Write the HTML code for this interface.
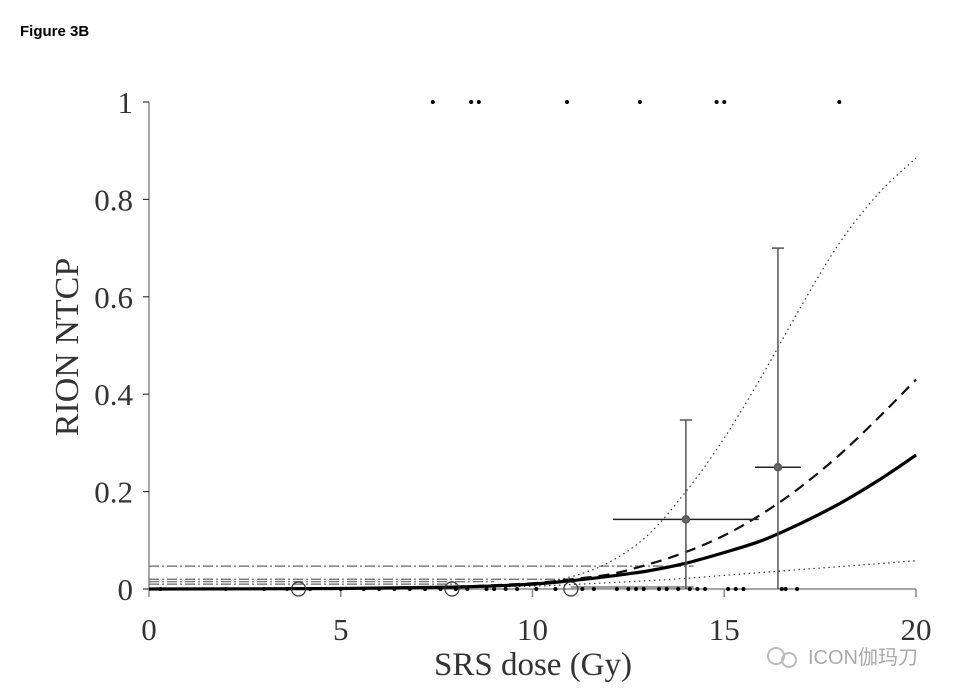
<!DOCTYPE html>
<html><head><meta charset="utf-8"><style>
body{margin:0;background:#fff;width:973px;height:699px;overflow:hidden}
svg{display:block}
</style></head><body>
<svg id="c" width="973" height="699" xmlns="http://www.w3.org/2000/svg">
<text x="20" y="36" font-family="Liberation Sans, sans-serif" font-weight="bold" font-size="15">Figure 3B</text>
<g id="axes"></g>
<g id="marks"></g>
<text x="533" y="675" text-anchor="middle" font-family="Liberation Serif, serif" font-size="33" fill="#333">SRS dose (Gy)</text>
<text transform="translate(78,347) rotate(-90)" text-anchor="middle" font-family="Liberation Serif, serif" font-size="34" fill="#333">RION NTCP</text>
<g>
<circle cx="776" cy="656" r="8" fill="none" stroke="#bbb" stroke-width="2"/>
<circle cx="789" cy="660" r="7" fill="none" stroke="#bbb" stroke-width="2"/>
<text x="808" y="664" font-family="Liberation Sans, 'Noto Sans CJK SC', sans-serif" font-size="20" fill="#aaa">ICON伽玛刀</text>
</g>
</svg>
<script>
const xTicks=[0,5,10,15,20];
const yTicks=[0,0.2,0.4,0.6,0.8,1];
const yTickLabels=["0","0.2","0.4","0.6","0.8","1"];
const doses=[0,5,8,10,11,12,13,14,15,16,17,18,19,20];
const fitMain=[0,0.001,0.004,0.01,0.017,0.026,0.037,0.053,0.075,0.1,0.135,0.175,0.222,0.275];
const fitDashed=[0,0.001,0.005,0.012,0.02,0.03,0.05,0.076,0.11,0.155,0.21,0.275,0.35,0.43];
const ciUpper=[0,0.002,0.006,0.012,0.025,0.055,0.11,0.2,0.31,0.44,0.58,0.71,0.81,0.885];
const ciLower=[0,0.001,0.003,0.006,0.009,0.013,0.017,0.022,0.028,0.034,0.04,0.046,0.052,0.058];
const refLevels=[0.047,0.02,0.015,0.01];
const refEnds=[14.2,11.0,9.0,8.0];
const binX=[14.0,16.4];
const binY=[0.143,0.25];
const binYLo=[0,0];
const binYHi=[0.347,0.70];
const binXLo=[12.1,15.8];
const binXHi=[15.9,17.0];
const eventDoses=[7.4,8.4,8.6,10.9,12.8,14.8,15.0,18.0];
const censorDoses=[0.3,2.0,3.0,3.6,4.2,5.0,5.6,6.0,6.4,6.8,7.2,7.6,8.0,8.3,8.8,9.0,9.3,9.6,10.1,10.6,11.3,11.6,12.2,12.5,12.7,12.9,13.3,13.5,13.8,14.1,14.3,14.5,15.1,15.3,15.5,16.5,16.6,16.9];
const circleDoses=[3.9,7.9,11.0];
const NS='http://www.w3.org/2000/svg';
const X=d=>149+d*(916-149)/20;
const Y=v=>589-v*(589-102);
function mk(tag,attrs,parent){const e=document.createElementNS(NS,tag);for(const k in attrs)e.setAttribute(k,attrs[k]);parent.appendChild(e);return e;}
const ax=document.getElementById('axes'),mg=document.getElementById('marks');
let e=mk('line',{x1:X(0),y1:Y(1),x2:X(0),y2:Y(0),stroke:'#888','stroke-width':1.5},ax);


e=mk('line',{x1:X(0),y1:Y(0),x2:X(20),y2:Y(0),stroke:'#888','stroke-width':1.5},ax);


yTicks.forEach((v,i)=>{
 mk('line',{x1:X(0)-6,y1:Y(v),x2:X(0),y2:Y(v),stroke:'#333','stroke-width':1.2},ax);
 const t=mk('text',{x:X(0)-16,y:Y(v)+11,'text-anchor':'end','font-family':'Liberation Serif, serif','font-size':31,fill:'#333'},ax);
 t.textContent=yTickLabels[i];
 
 
});
xTicks.forEach(v=>{
 mk('line',{x1:X(v),y1:Y(0),x2:X(v),y2:Y(0)+8,stroke:'#888','stroke-width':1.5},ax);
 const t=mk('text',{x:X(v),y:Y(0)+51,'text-anchor':'middle','font-family':'Liberation Serif, serif','font-size':31,fill:'#333'},ax);
 t.textContent=String(v);
 
 
});
refLevels.forEach((v,i)=>{
 const l=mk('line',{x1:X(0),y1:Y(v),x2:X(refEnds[i]),y2:Y(v),stroke:'#666','stroke-width':1.2,'stroke-dasharray':'10 3 2 3'},mg);
 
 
});
mk('line',{x1:X(11),y1:Y(0.003),x2:X(14.2),y2:Y(0.003),stroke:'#999','stroke-width':3},mg);
function path(vals,attrs,name){
 const P=doses.map((x,i)=>[X(x),Y(vals[i])]);
 let d='M'+P[0][0].toFixed(1)+','+P[0][1].toFixed(1);
 for(let i=0;i<P.length-1;i++){
  const p0=P[Math.max(i-1,0)],p1=P[i],p2=P[i+1],p3=P[Math.min(i+2,P.length-1)];
  const c1=[p1[0]+(p2[0]-p0[0])/6,p1[1]+(p2[1]-p0[1])/6];
  const c2=[p2[0]-(p3[0]-p1[0])/6,p2[1]-(p3[1]-p1[1])/6];
  d+='C'+c1.map(n=>n.toFixed(1))+' '+c2.map(n=>n.toFixed(1))+' '+p2.map(n=>n.toFixed(1));
 }
 const p=mk('path',Object.assign({d:d,fill:'none'},attrs),mg);
 
 
}
path(ciUpper,{stroke:'#333','stroke-width':1.2,'stroke-dasharray':'1.5 3.5'},'ci-upper-line');
path(ciLower,{stroke:'#333','stroke-width':1.2,'stroke-dasharray':'1.5 3.5'},'ci-lower-line');
path(fitDashed,{stroke:'#111','stroke-width':2.2,'stroke-dasharray':'11 7'},'dashed-fit-line');
path(fitMain,{stroke:'#000','stroke-width':3.2},'ntcp-fit-line');
binX.forEach((x,i)=>{
 const g=mk('g',{stroke:'#555','stroke-width':1.5,fill:'none'},mg);
 
 
 mk('line',{x1:X(x),y1:Y(binYLo[i]),x2:X(x),y2:Y(binYHi[i])},g);
 mk('line',{x1:X(x)-6,y1:Y(binYHi[i]),x2:X(x)+6,y2:Y(binYHi[i])},g);
 mk('line',{x1:X(binXLo[i]),y1:Y(binY[i]),x2:X(binXHi[i]),y2:Y(binY[i]),stroke:'#222'},g);
 mk('circle',{cx:X(x),cy:Y(binY[i]),r:3.5,fill:'#666'},g);
});
eventDoses.forEach(x=>{
 const c=mk('circle',{cx:X(x),cy:Y(1),r:2,fill:'#000'},mg);
 
 
});
censorDoses.forEach(x=>{
 const c=mk('circle',{cx:X(x),cy:Y(0),r:2,fill:'#000'},mg);
 
 
});
circleDoses.forEach(x=>{
 const c=mk('circle',{cx:X(x),cy:Y(0),r:7,fill:'none',stroke:'#333','stroke-width':1.2},mg);
 
 
});
</script>
</body></html>
